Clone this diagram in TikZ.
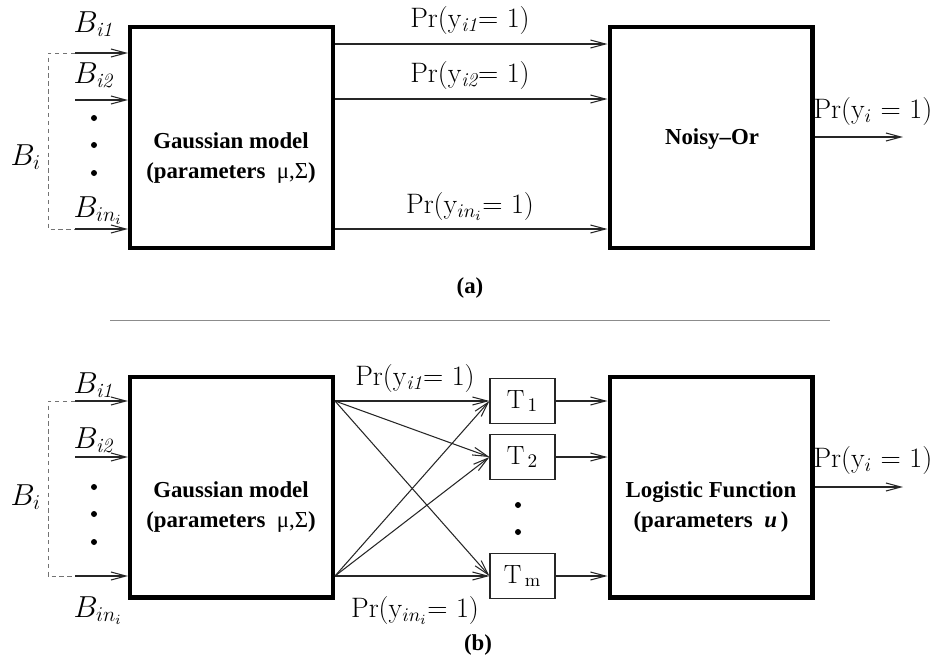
\documentclass[tikz,border=0pt]{standalone}
\usepackage{fontspec}
\newfontfamily\tnr[Ligatures=TeX]{Liberation Serif}
\usetikzlibrary{arrows.meta}
\usetikzlibrary{positioning}

\begin{document}
\begin{tikzpicture}[x=0.02cm, y=-0.02cm, black!85, line width = 0.6pt,
    bigbox/.style = {draw = black, line width = 2.3pt, minimum width = 4.06cm, minimum height = 4.42cm, inner sep = 0pt},
    tbox/.style = {draw, minimum width = 1.3cm, minimum height = 0.9cm, inner sep = 0pt, text = black, font = \fontsize{15}{17}\selectfont},
    flow/.style = {-{Straight Barb[length=0.3cm, width=0.16cm]}},
    boldlbl/.style = {font = \tnr\bfseries\fontsize{13}{17}\selectfont, align = center, text = black},
    prlbl/.style = {font = \fontsize{16}{18}\selectfont, anchor = base, inner sep = 0pt, text = black},
    blbl/.style = {font = \fontsize{16.5}{18}\selectfont, anchor = base west, inner sep = 0pt, text = black},
    dot/.style = {circle, fill = black, inner sep = 0pt, minimum size = 0.12cm},
    bracket/.style = {black!55, line width = 0.5pt, dash pattern = on 2.5pt off 2pt},
]

    \useasboundingbox (0,0) rectangle (941,663);

    % ---------------- (a) ----------------
    \node (gaussA) at (231.5,137.5) [bigbox] {};
    \node (noisy)  at (711,137.5)   [bigbox] {};

    \node (gaussAtxt) at (231,158) [boldlbl] {Gaussian model\\(parameters\ \ {\mdseries μ,Σ})};
    \node (noisytxt)  at (712,139) [boldlbl] {Noisy--Or};

    \coordinate (inA1) at (75,53);
    \coordinate (inA2) at (75,100);
    \coordinate (inAn) at (75,229);

    \draw[flow] (inA1) -- (inA1 -| gaussA.west);
    \draw[flow] (inA2) -- (inA2 -| gaussA.west);
    \draw[flow] (inAn) -- (inAn -| gaussA.west);
    \draw[bracket] (inA1) -- (48,53) -- (48,229) -- (inAn);

    \node (bA1) at (73,32)  [blbl] {$B_{\mathit{i1}}$};
    \node (bA2) at (73,83)  [blbl] {$B_{\mathit{i2}}$};
    \node (bAn) at (73,217) [blbl] {$B_{in_i}$};
    \node (bA)  at (10,165) [blbl] {$B_i$};

    \foreach \y [count=\k] in {118,145,173}
        \node (dotA\k) at (94,\y) [dot] {};

    \coordinate (yA1) at (0,44);
    \coordinate (yA2) at (0,99);
    \coordinate (yAn) at (0,229);
    \foreach \c in {yA1,yA2,yAn}
        \draw[flow] (gaussA.east |- \c) -- (noisy.west |- \c);

    \node (prA1) at (470,27)  [prlbl] {Pr(y$_{\mathit{i1}}$= 1)};
    \node (prA2) at (470,82)  [prlbl] {Pr(y$_{\mathit{i2}}$= 1)};
    \node (prAn) at (470,213) [prlbl] {Pr(y$_{in_i}$= 1)};

    \coordinate (outA) at (903,137);
    \draw[flow] (noisy.east |- outA) -- (outA);
    \node (prA) at (813,118) [prlbl, anchor = base west] {Pr(y$_i$ = 1)};

    \node (capA) at (470,288) [boldlbl] {(a)};

    % separator
    \coordinate (sepL) at (110,320);
    \coordinate (sepR) at (830,320);
    \draw[black!45, line width = 0.5pt] (sepL) -- (sepR);

    % ---------------- (b) ----------------
    \node (gaussB) at (231.5,487) [bigbox] {};
    \node (logit)  at (711,487)   [bigbox] {};

    \node (gaussBtxt) at (231,507) [boldlbl] {Gaussian model\\(parameters\ \ {\mdseries μ,Σ})};
    \node (logittxt)  at (711,507) [boldlbl] {Logistic Function\\(parameters\ \ {\itshape u}\,)};

    \node (t1) at (522.5,401) [tbox] {T$_{\,1}$};
    \node (t2) at (522.5,457) [tbox] {T$_{\,2}$};
    \node (tm) at (522.5,576) [tbox] {T$_{\,\mathrm{m}}$};

    \node (dotT1) at (518,505) [dot] {};
    \node (dotT2) at (518,532) [dot] {};

    \coordinate (inB1) at (75,401);
    \coordinate (inB2) at (75,457);
    \coordinate (inBn) at (75,576);

    \draw[flow] (inB1) -- (inB1 -| gaussB.west);
    \draw[flow] (inB2) -- (inB2 -| gaussB.west);
    \draw[flow] (inBn) -- (inBn -| gaussB.west);
    \draw[bracket] (inB1) -- (48,401) -- (48,576) -- (inBn);

    \node (bB1) at (73,393) [blbl] {$B_{\mathit{i1}}$};
    \node (bB2) at (73,448) [blbl] {$B_{\mathit{i2}}$};
    \node (bBn) at (73,617) [blbl] {$B_{in_i}$};
    \node (bB)  at (10,505) [blbl] {$B_i$};

    \foreach \y [count=\k] in {487,514,542}
        \node (dotB\k) at (94,\y) [dot] {};

    \coordinate (srcT) at (gaussB.east |- t1.west);
    \coordinate (srcB) at (gaussB.east |- tm.west);
    \foreach \s in {srcT,srcB}
        \foreach \t in {t1,t2,tm}
            \draw[flow] (\s) -- (\t.west);

    \foreach \t in {t1,t2,tm}
        \draw[flow] (\t.east) -- (logit.west |- \t.east);

    \node (prB1) at (415,385) [prlbl] {Pr(y$_{\mathit{i1}}$= 1)};
    \node (prBn) at (415,617) [prlbl] {Pr(y$_{in_i}$= 1)};

    \coordinate (outB) at (903,487);
    \draw[flow] (logit.east |- outB) -- (outB);
    \node (prB) at (813,467) [prlbl, anchor = base west] {Pr(y$_i$ = 1)};

    \node (capB) at (478,645) [boldlbl] {(b)};

\end{tikzpicture}
\end{document}
